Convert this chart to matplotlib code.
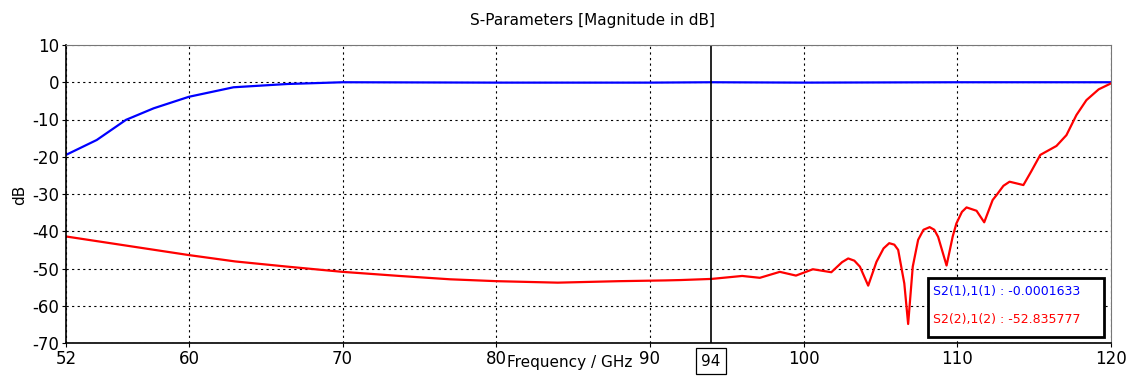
import matplotlib
matplotlib.use('Agg')
import matplotlib.pyplot as plt
import numpy as np

# S11 (blue) and S21 (red)
s11_f = [52, 54, 55.9, 57.7, 60, 62.9, 66.4, 70, 80, 90, 94, 100, 110, 120]
s11_db = [-19.5, -15.5, -10.1, -7.0, -3.9, -1.35, -0.47, 0.0, -0.1, -0.1, 0.0, -0.1, 0.0, 0.0]

s21_f = [52, 56, 60, 63, 66.4, 70, 73.7, 77, 80, 84, 88, 91, 92, 94, 96, 97.15, 98.45, 99.5,
         100.6, 101.8, 102.5, 102.9, 103.3, 103.66, 104.2, 104.74, 105.2, 105.57, 105.9, 106.15,
         106.55, 106.8, 107.1, 107.45, 107.8, 108.2, 108.5, 108.75, 109.3, 109.7, 109.94, 110.3,
         110.6, 111.25, 111.75, 112.3, 112.55, 113.0, 113.4, 114.3, 114.8, 115.4, 116.45, 117.1,
         117.75, 118.4, 119.2, 120]
s21_db = [-41.4, -43.9, -46.4, -48.1, -49.5, -50.9, -52.0, -52.9, -53.4, -53.8, -53.4, -53.2, -53.1,
          -52.8, -52.0, -52.5, -50.9, -51.9, -50.2, -51.0, -48.3, -47.3, -47.9, -49.5, -54.6,
          -48.2, -44.6, -43.2, -43.6, -45.0, -54.0, -64.9, -49.5, -42.3, -39.6, -38.9, -39.6,
          -41.5, -49.2, -41.4, -37.9, -34.8, -33.6, -34.5, -37.6, -31.6, -30.3, -27.8, -26.7,
          -27.6, -24.0, -19.5, -17.1, -14.2, -8.8, -4.8, -1.9, -0.3]

x_ticks = [52, 60, 70, 80, 90, 100, 110, 120]
y_ticks = [10, 0, -10, -20, -30, -40, -50, -60, -70]
marker_f = 94
legend_lines = ['S2(1),1(1) : -0.0001633', 'S2(2),1(2) : -52.835777']

plt.rcParams['font.family'] = ['DejaVu Sans']
plt.rcParams['axes.unicode_minus'] = False

W, H = 1128, 376
fig = plt.figure(figsize=(W / 100, H / 100), dpi=100)
ax = fig.add_axes([66 / W, 1 - 343 / H, (1111 - 66) / W, (343 - 45) / H])

ax.plot(s11_f, s11_db, color='blue', linewidth=1.6)
ax.plot(s21_f, s21_db, color='red', linewidth=1.6)
ax.axvline(marker_f, color='black', linewidth=1.2)

ax.set_xlim(52, 120)
ax.set_ylim(-70, 10)
ax.set_xticks(x_ticks)
ax.set_yticks(y_ticks)
ax.tick_params(labelsize=12, length=3, direction='out', pad=2)
ax.grid(True, color='black', linestyle=(0, (2, 3)), linewidth=0.8)

for s in ['top', 'right']:
    ax.spines[s].set_color('#777777')
for s in ['bottom', 'left']:
    ax.spines[s].set_color('black')
    ax.spines[s].set_linewidth(1.2)

fig.text(592 / W, 1 - 20 / H, 'S-Parameters [Magnitude in dB]', fontsize=11,
         ha='center', va='center')
fig.text(20 / W, 1 - 195 / H, 'dB', fontsize=11, rotation=90, ha='center', va='center')
fig.text(507 / W, 1 - 355 / H, 'Frequency / GHz', fontsize=11, ha='left', va='top')
fig.text(711 / W, 1 - 361 / H, str(marker_f), fontsize=11, ha='center', va='center',
         bbox=dict(boxstyle='square,pad=0.35', facecolor='white', edgecolor='black',
                   linewidth=0.9))

# marker readout box
fig.add_artist(plt.Rectangle((928 / W, 1 - 337 / H), 176 / W, 59 / H,
                             transform=fig.transFigure, facecolor='white',
                             edgecolor='black', linewidth=2, zorder=3))
fig.text(933 / W, 1 - 292 / H, legend_lines[0], color='blue', fontsize=9, va='center',
         zorder=5)
fig.text(933 / W, 1 - 320 / H, legend_lines[1], color='red', fontsize=9, va='center',
         zorder=5)

fig.savefig('out.png', dpi=100)
